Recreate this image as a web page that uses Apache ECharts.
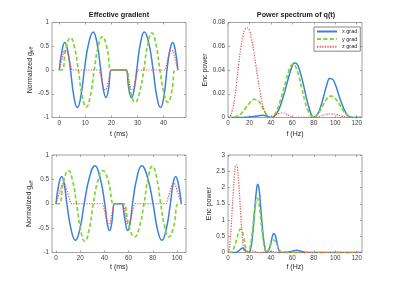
<!DOCTYPE html>
<html>
<head>
<meta charset="utf-8">
<script src="https://cdn.jsdelivr.net/npm/echarts@6/dist/echarts.min.js"></script>
<style>
  html, body { margin: 0; padding: 0; background: #fff; }
  #chart { width: 400px; height: 283px; }
</style>
</head>
<body>
<div id="chart"></div>
<script>
// tick labels
const tTicksShort = [0, 10, 20, 30, 40]
const tTicksLong = [0, 20, 40, 60, 80, 100]
const fTicks = [0, 20, 40, 60, 80, 100, 120]
const gTicks = [-1, -0.5, 0, 0.5, 1]
const powTicksTop = [0, 0.02, 0.04, 0.06, 0.08]
const powTicksBottom = [0, 0.5, 1, 1.5, 2, 2.5, 3]
const seriesNames = ['x grad', 'y grad', 'z grad']

// effective gradient, short sequence  [t (ms), g]
const gxShort = [[0,0],[1.05,0.41],[2.1,0.58],[3.2,0.41],[4.3,0],
  [5.6,-0.56],[6.9,-0.79],[8.25,-0.56],[9.6,0],
  [11.3,0.57],[13.0,0.8],[14.45,0.57],[15.9,0],
  [16.9,-0.41],[17.9,-0.58],[18.85,-0.41],[19.8,0],
  [20.2,0],[25.3,0],[25.7,0],
  [26.7,-0.41],[27.7,-0.58],[28.7,-0.41],[29.7,0],
  [31.15,0.57],[32.6,0.8],[34.3,0.57],[36.0,0],
  [37.4,-0.56],[38.8,-0.79],[40.1,-0.56],[41.3,0],
  [42.4,0.41],[43.5,0.58],[44.5,0.41],[45.5,0]]
const gyShort = [[0,0],[1.0,0],[2.65,0.48],[4.3,0.68],[5.8,0.48],[7.3,0],
  [8.8,-0.55],[10.35,-0.78],[11.9,-0.55],[13.4,0],
  [14.95,0.5],[16.5,0.7],[18.15,0.5],[19.8,0],
  [20.2,0],[25.3,0],[25.7,0],
  [27.4,-0.48],[29.1,-0.68],[30.75,-0.48],[32.4,0],
  [33.95,0.55],[35.5,0.78],[37.05,0.55],[38.6,0],
  [40.1,-0.48],[41.6,-0.68],[43.05,-0.48],[44.5,0],[45.5,0]]
const gzShort = [[0,0],[1.8,0.41],[3.0,0.41],[4.8,0],[15.4,0],[17.1,-0.41],[18.1,-0.41],[19.8,0],
  [25.7,0],[27.4,-0.41],[28.4,-0.41],[30.1,0],[40.7,0],[42.4,0.41],[43.6,0.41],[45.5,0]]

// effective gradient, long sequence
const gxLong = [[0,0],[2.35,0.4],[4.7,0.56],[6.85,0.4],[9.0,0],
  [12.5,-0.53],[16.0,-0.75],[19.65,-0.53],[23.3,0],
  [27.75,0.55],[32.2,0.78],[36.25,0.55],[40.3,0],
  [42.25,-0.39],[44.2,-0.55],[46.1,-0.39],[48.0,0],
  [48.4,0],[55.1,0],[55.5,0],
  [57.4,-0.39],[59.3,-0.55],[61.25,-0.39],[63.2,0],
  [67.0,0.55],[70.8,0.78],[75.5,0.55],[80.2,0],
  [83.85,-0.53],[87.5,-0.75],[91.0,-0.53],[94.5,0],
  [96.65,0.4],[98.8,0.56],[101.15,0.4],[103.5,0]]
const gyLong = [[0,0],[2.5,0],[6.4,0.48],[10.3,0.68],[13.65,0.48],[17.0,0],
  [20.4,-0.54],[23.8,-0.77],[27.3,-0.54],[30.8,0],
  [34.65,0.48],[38.5,0.68],[43.0,0.48],[47.5,0],
  [48.4,0],[55.1,0],[56.0,0],
  [60.5,-0.48],[65.0,-0.68],[68.85,-0.48],[72.7,0],
  [76.2,0.54],[79.7,0.77],[83.1,0.54],[86.5,0],
  [89.85,-0.48],[93.2,-0.68],[97.1,-0.48],[101.0,0],[103.5,0]]
const gzLong = [[0,0],[5.2,0.41],[7.4,0.41],[12.4,0],[38.6,0],[42.8,-0.41],[44.5,-0.41],[48.0,0],
  [55.5,0],[59.0,-0.41],[60.7,-0.41],[64.9,0],[91.1,0],[96.1,0.41],[98.3,0.41],[103.5,0]]

// power spectrum, short sequence  [f (Hz), power]
const pxShort = [[0,0],[10,0],[15,0.0001],[20,0.0004],[25,0.001],[30,0.0017],[33,0.0018],[36,0.0012],[39,0.0003],[41,0],
  [44,0.002],[47,0.006],[50,0.013],[53,0.022],[56,0.032],[59,0.041],[62,0.046],[64,0.0455],[67,0.039],[70,0.029],[73,0.017],[76,0.007],[78,0.002],[80,0],
  [83,0.002],[86,0.008],[89,0.017],[92,0.027],[95,0.0328],[97,0.0325],[100,0.028],[103,0.02],[106,0.012],[109,0.0055],[112,0.0015],[115,0.0002],[117,0],[125,0]]
const pyShort = [[0,0],[4,0.0002],[8,0.001],[12,0.003],[16,0.0075],[20,0.012],[24,0.0152],[27,0.015],[30,0.012],[33,0.007],[36,0.0025],[39,0.0002],[40,0],
  [42,0.001],[45,0.005],[48,0.012],[51,0.021],[54,0.031],[57,0.04],[59,0.044],[61,0.045],[63,0.043],[66,0.035],[69,0.024],[72,0.013],[75,0.005],[78,0.001],[80,0],
  [83,0.002],[86,0.006],[89,0.011],[92,0.0155],[95,0.018],[98,0.0178],[101,0.015],[104,0.011],[107,0.0065],[110,0.003],[113,0.001],[116,0],[125,0]]
const pzShort = [[0,0],[2,0.001],[4,0.006],[6,0.015],[8,0.029],[10,0.045],[12,0.059],[14,0.069],[16,0.0745],[18,0.0755],[20,0.073],[22,0.066],[24,0.056],[26,0.044],[28,0.032],[30,0.021],[32,0.012],[34,0.0055],[36,0.002],[38,0.0004],[40,0],
  [44,0.0015],[48,0.0035],[51,0.0038],[54,0.003],[57,0.0015],[60,0.0003],[63,0],[70,0.0002],[75,0.0001],[80,0],
  [86,0.001],[91,0.0025],[96,0.003],[101,0.0025],[106,0.0012],[111,0.0003],[116,0],[125,0.0002]]

// power spectrum, long sequence
const pxLong = [[0,0],[5,0],[8,0.01],[10,0.05],[12,0.11],[13.5,0.135],[15,0.11],[17,0.04],[19,0],
  [21,0.1],[23,0.55],[25,1.35],[26.5,1.9],[27.7,2.1],[29,1.95],[30.5,1.4],[32,0.8],[33.5,0.33],[35,0.07],[36.3,0],
  [38,0.06],[40,0.3],[42,0.56],[43,0.58],[44.5,0.48],[46,0.25],[47.5,0.07],[49,0],
  [55,0.005],[60,0.04],[64,0.07],[68,0.04],[72,0.005],[76,0],[125,0]]
const pyLong = [[0,0],[2,0.005],[4,0.05],[6,0.18],[8,0.4],[10,0.62],[11.5,0.72],[13,0.68],[14.5,0.5],[16,0.22],[17.5,0.03],[18.5,0],
  [20,0.08],[22,0.45],[24,1.05],[25.5,1.45],[27,1.68],[28.5,1.58],[30,1.2],[31.5,0.75],[33,0.35],[34.5,0.08],[35.5,0],
  [37,0.04],[39,0.17],[41,0.32],[43,0.38],[45,0.3],[47,0.14],[49,0.03],[50.5,0],
  [55,0.005],[60,0.01],[65,0.005],[70,0],[125,0]]
const pzLong = [[0,0],[1,0.08],[2,0.35],[3,0.8],[4,1.35],[5,1.9],[6,2.38],[7,2.66],[8,2.7],[9,2.52],[10,2.15],[11,1.65],[12,1.1],[13,0.62],[14,0.27],[15,0.07],[16,0],
  [18,0.015],[20,0.04],[22,0.05],[24,0.04],[26,0.015],[28,0],[32,0.005],[36,0.02],[40,0.035],[43,0.03],[46,0.01],[49,0],
  [55,0.005],[60,0.01],[65,0.005],[70,0],[125,0]]

const font = '"Liberation Sans", Arial, Helvetica, sans-serif'
const boxColor = '#8c8c8c'

const grids = [
  { left: 52, top: 22.5, width: 134, height: 95 },
  { left: 228, top: 22.5, width: 134, height: 95 },
  { left: 52, top: 155, width: 134, height: 97.5 },
  { left: 228, top: 155, width: 134, height: 97.5 }
]
const xSpec = [
  { min: -2.8, max: 48.6, ticks: tTicksShort, name: 't (ms)', gap: 13 },
  { min: 0, max: 125, ticks: fTicks, name: 'f (Hz)', gap: 13 },
  { min: -3.3, max: 107.4, ticks: tTicksLong, name: 't (ms)', gap: 11 },
  { min: 0, max: 125, ticks: fTicks, name: 'f (Hz)', gap: 11 }
]
const geffName = '{a|Normalized g}{b|eff}'
const ySpec = [
  { min: -1, max: 1, ticks: gTicks, name: geffName, gap: 17.5 },
  { min: 0, max: 0.08, ticks: powTicksTop, name: 'Enc power', gap: 17 },
  { min: -1, max: 1, ticks: gTicks, name: geffName, gap: 18 },
  { min: 0, max: 3, ticks: powTicksBottom, name: 'Enc power', gap: 13.5 }
]

function axis(spec, i, pos, labelled) {
  return {
    type: 'value', gridIndex: i, position: pos,
    min: spec.min, max: spec.max,
    name: labelled ? spec.name : '',
    nameLocation: 'middle', nameGap: spec.gap,
    nameTextStyle: {
      color: '#262626', fontSize: 7, fontFamily: font,
      rich: {
        a: { fontSize: 7, fontFamily: font, color: '#262626', lineHeight: 9, verticalAlign: 'middle' },
        b: { fontSize: 5, fontFamily: font, color: '#262626', lineHeight: 4, verticalAlign: 'bottom' }
      }
    },
    axisLine: { show: false, onZero: false },
    axisTick: { show: true, inside: true, length: 2, customValues: spec.ticks,
      lineStyle: { color: boxColor, width: 0.8 } },
    axisLabel: { show: labelled, customValues: spec.ticks, margin: 3,
      fontSize: 6.3, fontFamily: font, color: '#404040' },
    splitLine: { show: false }
  }
}

const xAxes = [], yAxes = []
for (let i = 0; i < 4; i++) {
  xAxes.push(axis(xSpec[i], i, 'bottom', true))
  yAxes.push(axis(ySpec[i], i, 'left', true))
}
for (let i = 0; i < 4; i++) {
  xAxes.push(axis(xSpec[i], i, 'top', false))
  yAxes.push(axis(ySpec[i], i, 'right', false))
}

const looks = {
  'x grad': { color: '#3a80dc', width: 1.5, type: 'solid' },
  'y grad': { color: '#84d23a', width: 1.7, type: [4, 2.4] },
  'z grad': { color: '#ee4b4b', width: 1.2, type: [1.2, 1.4] }
}
function line(name, data, i, smooth) {
  const l = looks[name]
  return {
    name, type: 'line', xAxisIndex: i, yAxisIndex: i, data,
    symbol: 'none', showSymbol: false, smooth, color: l.color,
    lineStyle: { color: l.color, width: l.width, type: l.type },
    emphasis: { disabled: true }, silent: true
  }
}

const series = [
  line('x grad', gxShort, 0, 0.5), line('y grad', gyShort, 0, 0.5), line('z grad', gzShort, 0, false),
  line('x grad', pxShort, 1, 0.5), line('y grad', pyShort, 1, 0.5), line('z grad', pzShort, 1, 0.5),
  line('x grad', gxLong, 2, 0.5), line('y grad', gyLong, 2, 0.5), line('z grad', gzLong, 2, false),
  line('x grad', pxLong, 3, 0.5), line('y grad', pyLong, 3, 0.5), line('z grad', pzLong, 3, 0.5)
]

function title(text, x) {
  return {
    type: 'text', x, y: 15.5, silent: true,
    style: { text, font: 'bold 7.2px ' + font, fill: '#1a1a1a',
      textAlign: 'center', textVerticalAlign: 'middle', align: 'center', verticalAlign: 'middle' }
  }
}

const chart = echarts.init(document.getElementById('chart'), null, { renderer: 'canvas' })
chart.setOption({
  backgroundColor: '#fff',
  animation: false,
  grid: grids.map(g => Object.assign({ show: true, borderColor: boxColor, borderWidth: 0.8, containLabel: false }, g)),
  xAxis: xAxes,
  yAxis: yAxes,
  legend: {
    data: seriesNames, orient: 'vertical', left: 314, top: 27,
    itemWidth: 20, itemHeight: 6, itemGap: 1.6,
    padding: [1.5, 3, 1.5, 2],
    borderColor: '#555', borderWidth: 0.7, backgroundColor: '#fff',
    selectedMode: false,
    itemStyle: { opacity: 0 },
    textStyle: { fontSize: 5.5, fontFamily: font, color: '#262626' }
  },
  graphic: [title('Effective gradient', 119), title('Power spectrum of q(t)', 296)],
  series
})
</script>
</body>
</html>
